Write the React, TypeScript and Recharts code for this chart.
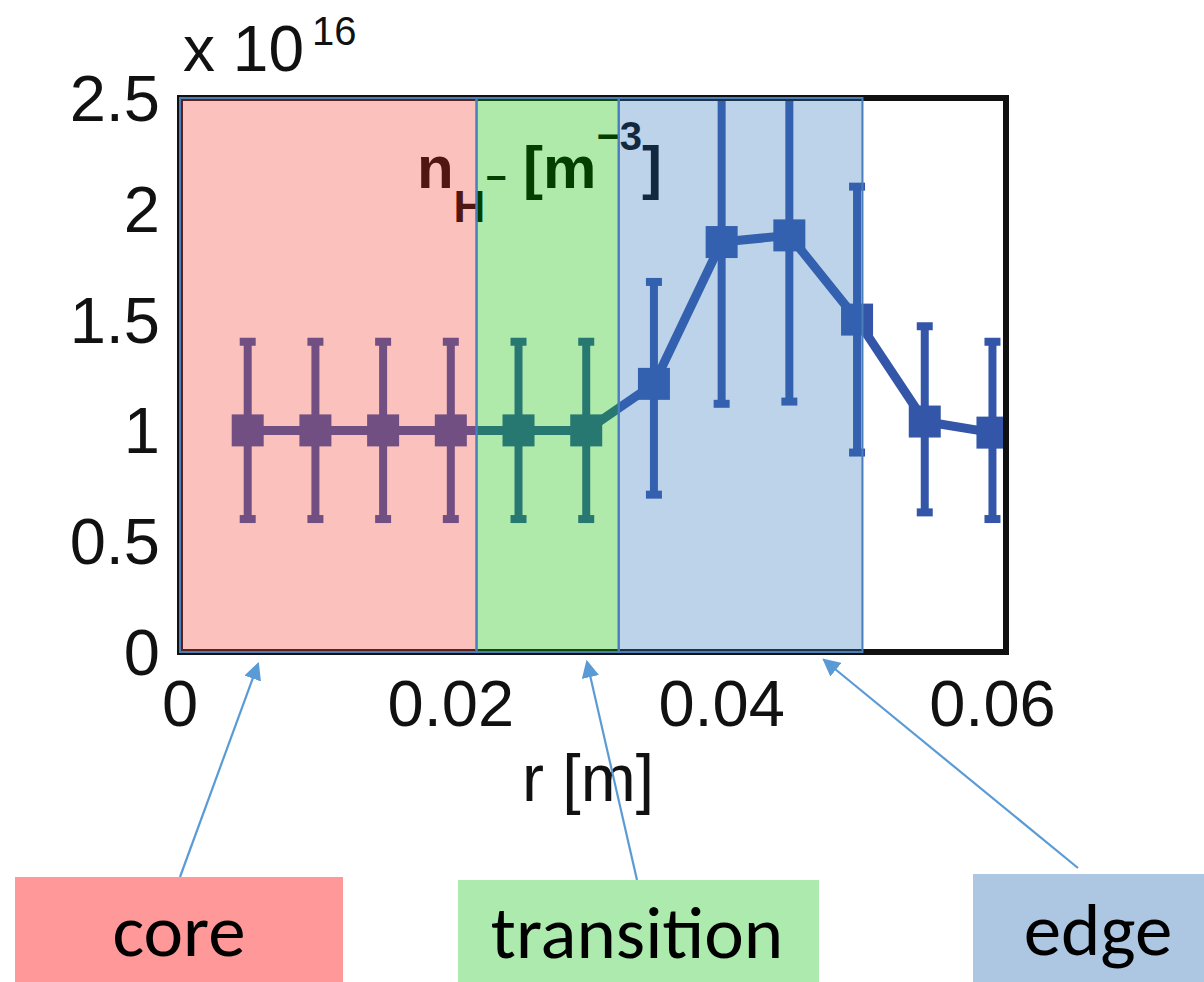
import {
  ComposedChart,
  Line,
  ErrorBar,
  XAxis,
  YAxis,
  ReferenceArea,
  ReferenceDot,
} from 'recharts';

// radius positions [m]
const R_VALUES = [0.005, 0.01, 0.015, 0.02, 0.025, 0.03, 0.035, 0.04, 0.045, 0.05, 0.055, 0.06];
// n_H- in units of 1e16 m^-3
const DENSITY = [1, 1, 1, 1, 1, 1, 1.21, 1.85, 1.88, 1.5, 1.04, 0.99];
const ERR_LOW = [0.6, 0.6, 0.6, 0.6, 0.6, 0.6, 0.71, 1.12, 1.13, 0.9, 0.63, 0.6];
const ERR_HIGH = [1.4, 1.4, 1.4, 1.4, 1.4, 1.4, 1.67, 2.6, 2.6, 2.1, 1.47, 1.4];

const X_TICKS = [0, 0.02, 0.04, 0.06];
const Y_TICKS = [0, 0.5, 1, 1.5, 2, 2.5];

const REGION_NAMES = ['core', 'transition', 'edge'];
const REGION_BOUNDS = [0, 0.0219, 0.0324, 0.0504];

const X_DOMAIN = [0, 0.061];
const Y_DOMAIN = [0, 2.5];

const LINE_COLOR = '#3456A9';
const OVERLAY = ['#F34438', '#0CBF00', '#3779BC'];
const BOX_FILL = ['#FF9999', '#ADEAAD', '#ADC7E2'];
const FONT = '"Liberation Sans", Arial, Helvetica, sans-serif';

const data = R_VALUES.map((r, i) => ({
  r,
  n: DENSITY[i],
  err: [DENSITY[i] - ERR_LOW[i], ERR_HIGH[i] - DENSITY[i]],
}));

const SquareDot = (props: any) => {
  const { cx, cy, index } = props;
  if (cx == null || cy == null) return null;
  return <rect key={`dot-${index}`} x={cx - 16} y={cy - 16} width={32} height={32} fill={LINE_COLOR} />;
};

const TitleLabel = (props: any) => {
  const { viewBox } = props;
  const x = viewBox.x;
  const y = viewBox.y;
  return (
    <text x={x} y={y} fontFamily={FONT} fontWeight="bold" fill="#000">
      <tspan fontSize={60}>n</tspan>
      <tspan fontSize={44} dy={34}>H</tspan>
      <tspan fontSize={36} dy={-32}>−</tspan>
      <tspan fontSize={60} dy={-2}> [m</tspan>
      <tspan fontSize={40} dy={-38}>−3</tspan>
      <tspan fontSize={60} dy={38}>]</tspan>
    </text>
  );
};

// annotation boxes under the chart (pixel layout of the slide)
const BOXES = [
  { x: 15, y: 877, w: 328, h: 105, tx: 179, ty: 956 },
  { x: 458, y: 880, w: 361, h: 102, tx: 637, ty: 958 },
  { x: 973, y: 874, w: 231, h: 108, tx: 1098, ty: 955 },
];
const ARROWS = [
  { x1: 180, y1: 877, x2: 258, y2: 664 },
  { x1: 637, y1: 880, x2: 587, y2: 662 },
  { x1: 1078, y1: 868, x2: 824, y2: 660 },
];

const axisText = { fontSize: 65, fill: '#111', fontFamily: FONT };

export default function App() {
  return (
    <div style={{ position: 'absolute', left: 0, top: 0, width: 1204, height: 982, background: '#fff' }}>
      <ComposedChart
        width={1204}
        height={982}
        data={data}
        margin={{ top: 98, right: 198, bottom: 160, left: 10 }}
      >
        <XAxis
          xAxisId="b"
          dataKey="r"
          type="number"
          domain={X_DOMAIN}
          ticks={X_TICKS}
          allowDataOverflow
          height={170}
          tickSize={0}
          tickMargin={28}
          tickLine={false}
          axisLine={false}
          tick={axisText}
          label={{ value: 'r [m]', position: 'insideBottom', offset: 21, dx: -5, style: { ...axisText, fontSize: 66 } }}
        />
        <YAxis
          yAxisId="l"
          type="number"
          domain={Y_DOMAIN}
          ticks={Y_TICKS}
          allowDataOverflow
          width={170}
          tickSize={0}
          tickMargin={20}
          tickLine={false}
          axisLine={false}
          tick={axisText}
        />
        <Line
          xAxisId="b"
          yAxisId="l"
          dataKey="n"
          type="linear"
          stroke={LINE_COLOR}
          strokeWidth={9}
          dot={SquareDot}
          activeDot={false}
          isAnimationActive={false}
        >
          <ErrorBar
            dataKey="err"
            direction="y"
            width={8}
            stroke={LINE_COLOR}
            strokeWidth={8}
            isAnimationActive={false}
          />
        </Line>
        {/* white band hiding the error bars that run past the top of the axes */}
        <ReferenceArea
          xAxisId="b"
          yAxisId="l"
          x1={X_DOMAIN[0]}
          x2={X_DOMAIN[1]}
          y1={Y_DOMAIN[1]}
          y2={2.75}
          fill="#fff"
          fillOpacity={1}
          stroke="none"
          ifOverflow="visible"
          zIndex={550}
        />
        {/* black axes box */}
        <ReferenceArea
          xAxisId="b"
          yAxisId="l"
          x1={X_DOMAIN[0]}
          x2={X_DOMAIN[1]}
          y1={Y_DOMAIN[0]}
          y2={Y_DOMAIN[1]}
          fill="none"
          fillOpacity={0}
          stroke="#111"
          strokeWidth={6}
          ifOverflow="visible"
          zIndex={600}
        />
        <ReferenceDot
          xAxisId="b"
          yAxisId="l"
          x={0.0175}
          y={2.094}
          r={0}
          fill="none"
          stroke="none"
          label={{ content: TitleLabel }}
          zIndex={700}
        />
        {REGION_NAMES.map((name, i) => (
          <ReferenceArea
            key={name}
            xAxisId="b"
            yAxisId="l"
            x1={REGION_BOUNDS[i]}
            x2={REGION_BOUNDS[i + 1]}
            y1={Y_DOMAIN[0]}
            y2={Y_DOMAIN[1]}
            fill={OVERLAY[i]}
            fillOpacity={0.33}
            stroke="#4A7EBB"
            strokeWidth={2}
            zIndex={1000}
          />
        ))}
      </ComposedChart>

      <div
        style={{
          position: 'absolute',
          left: 183,
          top: 14,
          fontFamily: FONT,
          fontSize: 64,
          lineHeight: '70px',
          color: '#111',
          whiteSpace: 'nowrap',
        }}
      >
        x 10<span style={{ fontSize: 40, position: 'relative', top: -26, marginLeft: 8 }}>16</span>
      </div>

      <svg
        width={1204}
        height={982}
        style={{ position: 'absolute', left: 0, top: 0, pointerEvents: 'none' }}
      >
        <defs>
          <marker id="arrowHead" markerWidth="8" markerHeight="8" refX="7" refY="4" orient="auto" markerUnits="strokeWidth">
            <path d="M0,0 L8,4 L0,8 Z" fill="#5B9BD5" />
          </marker>
        </defs>
        {ARROWS.map((a, i) => (
          <line
            key={`arrow-${i}`}
            x1={a.x1}
            y1={a.y1}
            x2={a.x2}
            y2={a.y2}
            stroke="#5B9BD5"
            strokeWidth={2.2}
            markerEnd="url(#arrowHead)"
          />
        ))}
        {REGION_NAMES.map((name, i) => (
          <g key={`box-${name}`}>
            <rect x={BOXES[i].x} y={BOXES[i].y} width={BOXES[i].w} height={BOXES[i].h} fill={BOX_FILL[i]} />
            <text
              x={BOXES[i].tx}
              y={BOXES[i].ty}
              textAnchor="middle"
              fontFamily="Carlito, Lato, 'Open Sans', sans-serif"
              fontSize={75}
              fill="#000"
            >
              {name}
            </text>
          </g>
        ))}
      </svg>
    </div>
  );
}
